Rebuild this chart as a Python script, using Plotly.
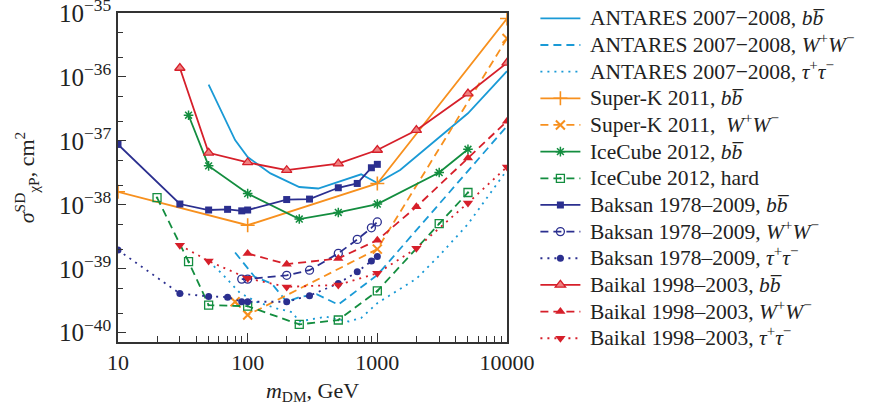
import plotly.graph_objects as go

# ---------------- data ----------------
ant_bb_x = [50, 80, 100, 150, 250, 350, 750, 1000, 1500, 5000, 10000]
ant_bb_y = [7.6e-37, 1.03e-37, 5.6e-38, 3.1e-38, 1.9e-38, 1.8e-38, 3.0e-38, 2.2e-38, 3.5e-38, 2.7e-37, 1.23e-36]

ant_ww_x = [80, 113, 153, 200, 250, 340, 500, 1000, 10000]
ant_ww_y = [1.8e-39, 7.5e-40, 5.9e-40, 3.05e-40, 3.6e-40, 4.0e-40, 2.75e-40, 8.0e-40, 1.7e-37]

ant_tt_x = [50, 63, 87, 117, 167, 220, 250, 400, 600, 750, 1000, 2000, 3000, 5000, 10000]
ant_tt_y = [1.3e-39, 8.5e-40, 4.2e-40, 3.05e-40, 2.4e-40, 2.1e-40, 1.5e-40, 1.78e-40, 1.5e-40, 1.7e-40,
            2.9e-40, 7.0e-40, 1.6e-39, 5.0e-39, 3.5e-38]

sk_bb_x = [10, 100, 1000, 10000]
sk_bb_y = [1.6e-38, 4.8e-39, 2.16e-38, 8.2e-36]

sk_ww_x = [80, 100, 1000, 10000]
sk_ww_y = [3.05e-40, 1.89e-40, 2.03e-39, 4.0e-36]

ic_bb_x = [35, 50, 100, 250, 500, 1000, 3000, 5000]
ic_bb_y = [2.52e-37, 4.07e-38, 1.5e-38, 6.0e-39, 7.6e-39, 1.03e-38, 3.2e-38, 7.4e-38]

ic_hard_x = [20, 35, 50, 100, 250, 500, 1000, 3000, 5000]
ic_hard_y = [1.3e-38, 1.29e-39, 2.7e-40, 2.6e-40, 1.35e-40, 1.58e-40, 4.5e-40, 5.1e-39, 1.56e-38]

bk_bb_x = [10, 30, 50, 70, 90, 100, 200, 300, 500, 700, 900, 1000]
bk_bb_y = [8.8e-38, 1.03e-38, 8.3e-39, 8.5e-39, 8.05e-39, 8.3e-39, 1.21e-38, 1.23e-38, 1.85e-38, 2.16e-38, 3.8e-38, 4.3e-38]

bk_ww_x = [90, 100, 200, 300, 500, 700, 900, 1000]
bk_ww_y = [6.9e-40, 6.9e-40, 7.9e-40, 9.5e-40, 1.74e-39, 2.88e-39, 4.37e-39, 5.4e-39]

bk_tt_x = [10, 30, 50, 70, 90, 100, 200, 300, 500, 700, 900, 1000]
bk_tt_y = [1.96e-39, 4.1e-40, 3.7e-40, 3.6e-40, 3.05e-40, 3.05e-40, 3.05e-40, 3.8e-40, 5.9e-40, 8.97e-40, 1.32e-39, 1.55e-39]

bai_bb_x = [30, 50, 100, 200, 500, 1000, 2000, 5000, 10000]
bai_bb_y = [1.38e-36, 6.5e-38, 4.6e-38, 3.48e-38, 4.4e-38, 7.2e-38, 1.47e-37, 5.5e-37, 1.66e-36]

bai_ww_x = [100, 200, 500, 1000, 2000, 5000, 10000]
bai_ww_y = [1.74e-39, 1.18e-39, 1.45e-39, 2.8e-39, 9.3e-39, 5.4e-38, 2.03e-37]

bai_tt_x = [30, 50, 100, 200, 500, 1000, 2000, 5000, 10000]
bai_tt_y = [2.34e-39, 1.32e-39, 7.08e-40, 5.2e-40, 5.6e-40, 8.5e-40, 2.09e-39, 1.07e-38, 3.92e-38]

x_tickvals = [10, 100, 1000, 10000]
x_ticktext = ["10", "100", "1000", "10000"]
y_tickvals = [1e-40, 1e-39, 1e-38, 1e-37, 1e-36, 1e-35]
y_ticktext = ["10<sup>−40</sup>", "10<sup>−39</sup>", "10<sup>−38</sup>", "10<sup>−37</sup>",
              "10<sup>−36</sup>", "10<sup>−35</sup>"]

BB = "<i>b</i><i>b\u0305</i>"
WW = "<i>W</i><sup>+</sup><i>W</i><sup>−</sup>"
TT = "<i>τ</i><sup>+</sup><i>τ</i><sup>−</sup>"

names = [
    "ANTARES 2007−2008, " + BB,
    "ANTARES 2007−2008, " + WW,
    "ANTARES 2007−2008, " + TT,
    "Super-K 2011, " + BB,
    "Super-K 2011,  " + WW,
    "IceCube 2012, " + BB,
    "IceCube 2012, hard",
    "Baksan 1978–2009, " + BB,
    "Baksan 1978–2009, " + WW,
    "Baksan 1978–2009, " + TT,
    "Baikal 1998–2003, " + BB,
    "Baikal 1998–2003, " + WW,
    "Baikal 1998–2003, " + TT,
]

# ---------------- styles ----------------
C_ANT = "#1a9ad6"
C_SK = "#f7901e"
C_IC = "#138d3f"
C_BK = "#2b2f8f"
C_BAI = "#d61f2a"

DASH = "8px,5px"
DOT = "2px,5px"

series = [
    (ant_bb_x, ant_bb_y, C_ANT, "solid", None),
    (ant_ww_x, ant_ww_y, C_ANT, DASH, None),
    (ant_tt_x, ant_tt_y, C_ANT, DOT, None),
    (sk_bb_x, sk_bb_y, C_SK, "solid", dict(symbol="cross-thin-open", size=10, line=dict(width=1.6, color=C_SK))),
    (sk_ww_x, sk_ww_y, C_SK, DASH, dict(symbol="x-thin-open", size=9, line=dict(width=2, color=C_SK))),
    (ic_bb_x, ic_bb_y, C_IC, "solid", dict(symbol="asterisk-open", size=8, line=dict(width=1.5, color=C_IC))),
    (ic_hard_x, ic_hard_y, C_IC, DASH, dict(symbol="square-open-dot", size=8, line=dict(width=1.3, color=C_IC))),
    (bk_bb_x, bk_bb_y, C_BK, "solid", dict(symbol="square", size=7, color=C_BK)),
    (bk_ww_x, bk_ww_y, C_BK, DASH, dict(symbol="circle-open", size=8, line=dict(width=1.3, color=C_BK))),
    (bk_tt_x, bk_tt_y, C_BK, DOT, dict(symbol="circle", size=7, color=C_BK)),
    (bai_bb_x, bai_bb_y, C_BAI, "solid", dict(symbol="triangle-up", size=9, color="#ee8080", line=dict(width=1.3, color=C_BAI))),
    (bai_ww_x, bai_ww_y, C_BAI, DASH, dict(symbol="triangle-up", size=9, color=C_BAI)),
    (bai_tt_x, bai_tt_y, C_BAI, DOT, dict(symbol="triangle-down", size=9, color=C_BAI)),
]

fig = go.Figure()
for (xs, ys, col, dash, mk), nm in zip(series, names):
    mode = "lines" if mk is None else "lines+markers"
    label = "\u00a0<span style='font-size:21.5px'>" + nm + "</span>"
    tr = dict(x=xs, y=ys, name=label, mode=mode,
              line=dict(color=col, width=1.8, dash=dash))
    if mk is not None:
        tr["marker"] = mk
    fig.add_trace(go.Scatter(**tr))

FONT = "Liberation Serif, Times New Roman, serif"

fig.update_layout(
    width=877, height=407,
    margin=dict(l=118, r=370, t=13, b=65, autoexpand=False),
    paper_bgcolor="white", plot_bgcolor="white",
    font=dict(family=FONT, color="#222", size=20),
    showlegend=True,
    legend=dict(
        x=1.073, xanchor="left", yref="container", y=1.03, yanchor="top",
        font=dict(family=FONT, size=18.2, color="#222"),
        tracegroupgap=0, itemwidth=40, bgcolor="rgba(0,0,0,0)",
        maxheight=420,
    ),
)

fig.update_xaxes(
    type="log", range=[1, 4],
    tickvals=x_tickvals, ticktext=x_ticktext,
    tickfont=dict(size=22, family=FONT, color="#222"),
    ticks="inside", ticklen=9, tickwidth=1.2, tickcolor="#333",
    minor=dict(ticks="inside", ticklen=6, tickwidth=1, tickcolor="#333", dtick="D1", showgrid=False),
    showline=True, linecolor="#333", linewidth=1.5, mirror=True,
    showgrid=False, zeroline=False, ticklabeloverflow="allow",
    title=dict(text="<i>m</i><sub>DM</sub>, GeV", font=dict(size=22, family=FONT, color="#222"), standoff=8),
)
fig.update_yaxes(
    type="log", range=[-40.145, -35],
    tickvals=y_tickvals, ticktext=y_ticktext,
    tickfont=dict(size=25, family=FONT, color="#222"),
    ticks="inside", ticklen=8, tickwidth=1.2, tickcolor="#333",
    minor=dict(ticks="inside", ticklen=5, tickwidth=1, tickcolor="#333", dtick="D2", showgrid=False),
    showline=True, linecolor="#333", linewidth=1.5, mirror=True,
    showgrid=False, zeroline=False, ticklabeloverflow="allow",
    title=dict(text="<i>σ</i><sup>SD</sup><sub>χP</sub>, cm<sup>2</sup>", font=dict(size=22, family=FONT, color="#222"), standoff=18),
)

fig.write_html("out.html")
